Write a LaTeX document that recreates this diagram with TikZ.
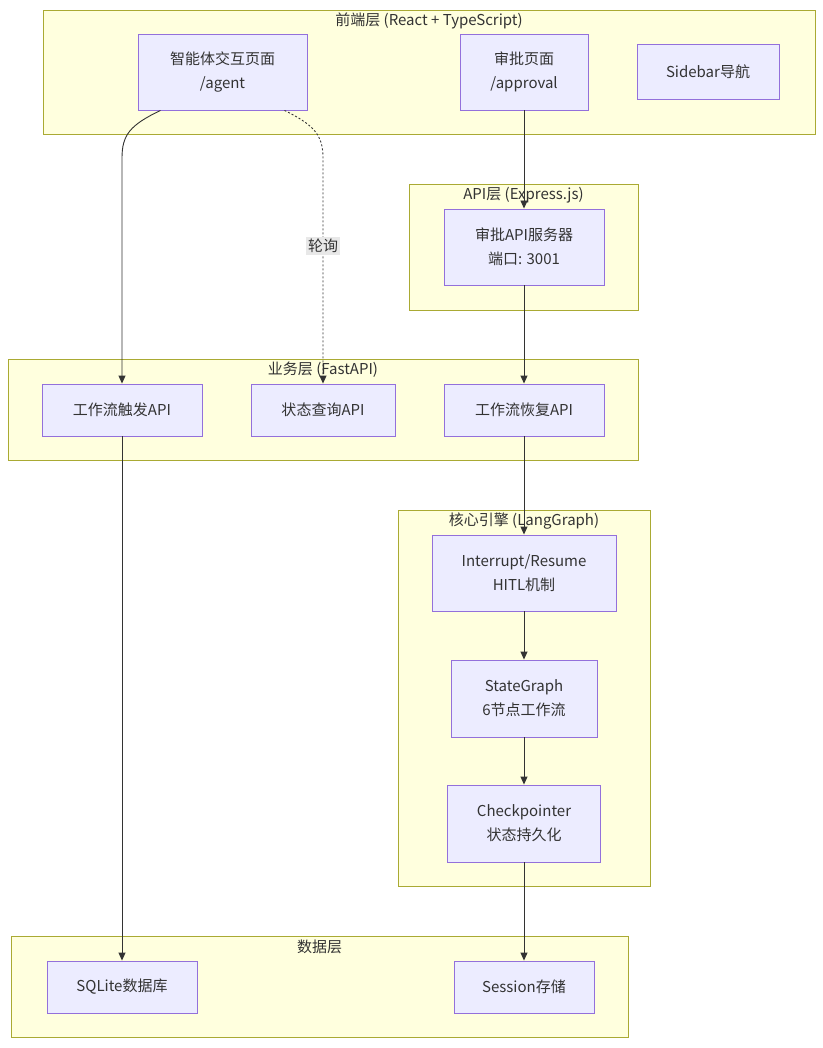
\documentclass[tikz,border=0pt]{standalone}
\usepackage{fontspec}
\setmainfont{Noto Sans CJK SC}
\usetikzlibrary{arrows.meta,calc}
\definecolor{clfill}{HTML}{FFFFDE}
\definecolor{cldraw}{HTML}{AAAA33}
\definecolor{ndfill}{HTML}{ECECFF}
\definecolor{nddraw}{HTML}{9370DB}
\definecolor{edge}{HTML}{333333}
\definecolor{lblbg}{HTML}{E8E8E8}
\tikzset{
  cluster/.style={draw=cldraw,fill=clfill,line width=0.9pt,inner sep=0pt},
  cltitle/.style={font=\fontsize{15}{18}\selectfont,text=edge,inner sep=0pt,anchor=center},
  box/.style={draw=nddraw,fill=ndfill,line width=0.9pt,align=center,inner sep=0pt,
    font=\fontsize{15}{24}\selectfont,text=edge},
  arr/.style={draw=edge,line width=0.9pt,-{Triangle[length=8pt,width=7pt]}},
  dotarr/.style={arr,dash pattern=on 2pt off 2pt},
  lbl/.style={fill=lblbg,inner sep=2pt,font=\fontsize{15}{18}\selectfont,text=edge}
}
\begin{document}
\begin{tikzpicture}[x=1pt,y=-1pt]
\useasboundingbox (0,0) rectangle (822,1048);
% clusters
\node[cluster,minimum width=772,minimum height=124] (cfront) at (429,72) {};
\node[cltitle] (tfront) at (429,21) {前端层 (React + TypeScript)};
\node[cluster,minimum width=229,minimum height=126] (capi) at (523.5,247) {};
\node[cltitle] (tapi) at (523.5,195) {API层 (Express.js)};
\node[cluster,minimum width=630,minimum height=101] (cbiz) at (323,409.5) {};
\node[cltitle] (tbiz) at (323,370) {业务层 (FastAPI)};
\node[cluster,minimum width=252,minimum height=376] (ccore) at (524,698) {};
\node[cltitle] (tcore) at (524,521) {核心引擎 (LangGraph)};
\node[cluster,minimum width=617,minimum height=101] (cdata) at (319.5,986.5) {};
\node[cltitle] (tdata) at (319.5,947) {数据层};
% nodes
\node[box,minimum width=169,minimum height=76] (agent) at (222.5,72) {智能体交互页面\\/agent};
\node[box,minimum width=128,minimum height=76] (appr) at (524,72) {审批页面\\/approval};
\node[box,minimum width=142,minimum height=55] (side) at (708,71.5) {Sidebar导航};
\node[box,minimum width=160,minimum height=76] (apisrv) at (524,247) {审批API服务器\\端口: 3001};
\node[box,minimum width=160,minimum height=52] (trig) at (122,410) {工作流触发API};
\node[box,minimum width=144,minimum height=52] (stat) at (323,410) {状态查询API};
\node[box,minimum width=160,minimum height=52] (resm) at (524,410) {工作流恢复API};
\node[box,minimum width=184,minimum height=76] (intr) at (524,573) {Interrupt/Resume\\HITL机制};
\node[box,minimum width=146,minimum height=77] (sg) at (524,698.5) {StateGraph\\6节点工作流};
\node[box,minimum width=153,minimum height=77] (ckpt) at (524,823.5) {Checkpointer\\状态持久化};
\node[box,minimum width=150,minimum height=52] (sqlite) at (122,987) {SQLite数据库};
\node[box,minimum width=140,minimum height=52] (sess) at (524,987) {Session存储};
% edges
\coordinate (bendA) at (122,158);
\coordinate (bendB) at (323,158);
\draw[arr] ([xshift=-62pt]agent.south) .. controls (130,125) and (122,135) .. (bendA) -- (trig.north);
\draw[dotarr] ([xshift=62pt]agent.south) .. controls (314,125) and (323,135) .. (bendB) -- (stat.north);
\node[lbl] (poll) at (323,246) {轮询};
\draw[arr] (appr) -- (apisrv);
\draw[arr] (apisrv) -- (resm);
\draw[arr] (resm) -- (intr);
\draw[arr] (intr) -- (sg);
\draw[arr] (sg) -- (ckpt);
\draw[arr] (ckpt) -- (sess);
\draw[arr] (trig) -- (sqlite);
\end{tikzpicture}
\end{document}
